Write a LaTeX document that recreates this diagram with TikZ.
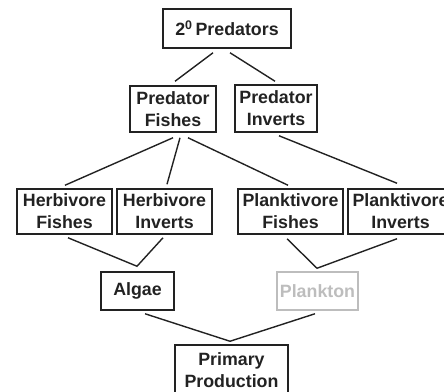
\documentclass[tikz,border=0pt]{standalone}
\usepackage{fontspec}
\setmainfont{Liberation Sans}
\usetikzlibrary{calc}
\definecolor{ink}{HTML}{222222}
\definecolor{faded}{HTML}{BDBDBD}
\tikzset{
  box/.style={draw=ink, text=ink, line width=1.5pt, inner sep=0pt, align=center,
    font=\fontsize{17.8}{22}\selectfont\bfseries},
  link/.style={draw=ink, line width=1.4pt},
}
\begin{document}
\begin{tikzpicture}[x=1pt,y=-1pt]
\useasboundingbox (0,0) rectangle (444,391);
\clip (0,0) rectangle (444,391);
\node[box, minimum width=128pt, minimum height=39pt] (P2) at (227,28.5) {2\textsuperscript{0}\,Predators};
\node[box, minimum width=86pt, minimum height=46pt] (PF) at (173,109) {Predator\\Fishes};
\node[box, minimum width=82pt, minimum height=47pt] (PI) at (276,108.5) {Predator\\Inverts};
\node[box, minimum width=95pt, minimum height=45pt] (HF) at (64.5,211.5) {Herbivore\\Fishes};
\node[box, minimum width=95pt, minimum height=45pt] (HI) at (164.5,211.5) {Herbivore\\Inverts};
\node[box, minimum width=105pt, minimum height=45pt] (PlF) at (290.5,211.5) {Planktivore\\Fishes};
\node[box, minimum width=105pt, minimum height=45pt] (PlI) at (400.5,211.5) {Planktivore\\Inverts};
\node[box, minimum width=73pt, minimum height=38pt] (Al) at (137.5,291) {Algae};
\node[box, draw=faded, text=faded, minimum width=81pt, minimum height=38pt] (Pk) at (317.5,291) {Plankton};
\node[box, minimum width=113pt, minimum height=50pt] (PP) at (231.5,370) {Primary\\Production};

\draw[link] ($(P2.south)+(-14,4)$) -- ($(PF.north)+(2,-4)$);
\draw[link] ($(P2.south)+(3,4)$) -- ($(PI.north)+(-1,-3)$);
\draw[link] ($(PF.south)+(0,5)$) -- ($(HF.north)+(0.5,-3)$);
\draw[link] ($(PF.south)+(7,5)$) -- ($(HI.north)+(2.5,-4)$);
\draw[link] ($(PF.south)+(15,5)$) -- ($(PlF.north)+(-2.5,-3)$);
\draw[link] ($(PI.south)+(3,3)$) -- ($(PlI.north)+(-3.5,-5)$);
\draw[link] ($(HF.south)+(3.5,3)$) -- ($(Al.north)+(-0.5,-5)$) -- ($(HI.south)+(-1.5,3)$);
\draw[link] ($(PlF.south)+(-3.5,4)$) -- ($(Pk.north)+(-0.5,-3)$) -- ($(PlI.south)+(-3.5,4)$);
\draw[link] ($(Al.south)+(7.5,3)$) -- ($(PP.north)+(-1.5,-3)$) -- ($(Pk.south)+(-2.5,3)$);
\end{tikzpicture}
\end{document}
